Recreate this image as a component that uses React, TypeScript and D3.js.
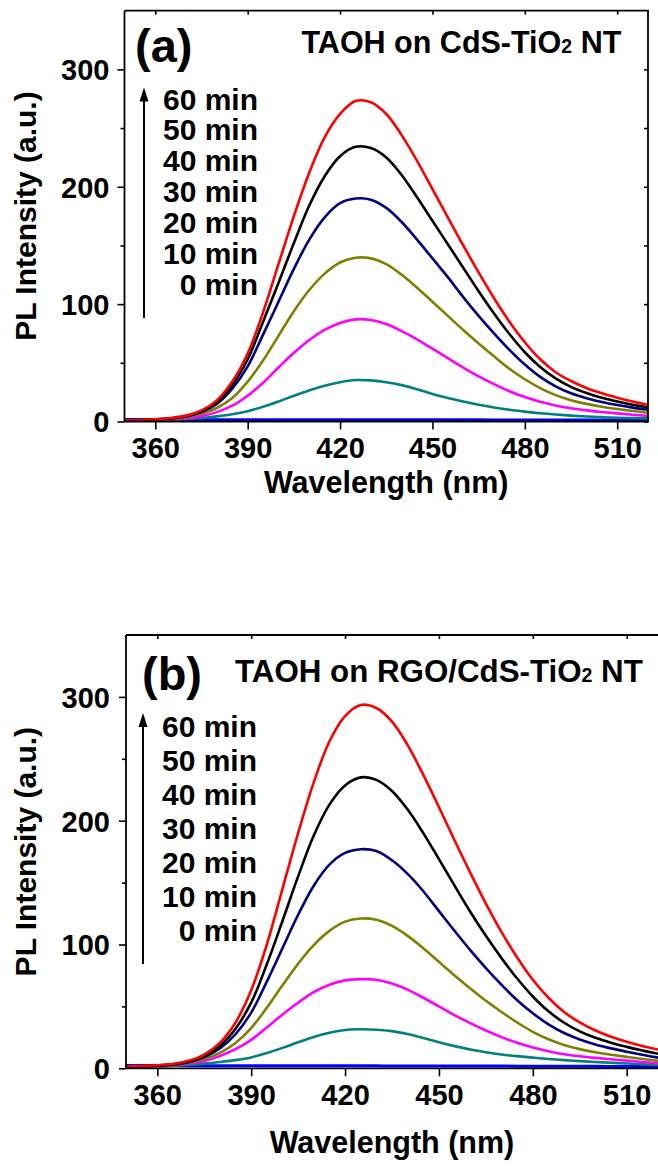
import React, { useEffect, useRef } from "react";
import * as d3 from "d3";

// wavelength grid (nm) shared by every curve
const wavelengths = [
	350, 355, 360, 365, 370, 375, 380, 385, 390, 395, 400, 405, 410, 415, 420, 425, 430, 435,
	440, 445, 450, 455, 460, 465, 470, 475, 480, 485, 490, 495, 500, 505, 510, 515, 520,
];

const seriesLabels = ["0 min", "10 min", "20 min", "30 min", "40 min", "50 min", "60 min"];
const seriesColors = ["#0000ff", "#008080", "#ff00ff", "#808000", "#000080", "#000000", "#ff0000"];

const xTicks = [360, 390, 420, 450, 480, 510];
const yTicks = [0, 100, 200, 300];
const yMinorTicks = [50, 150, 250];
const yRightTicks = [0, 50, 100, 150, 200, 250, 300];

// (a) TAOH on CdS-TiO2 NT
const topBlue = [1.6, 1.6, 1.6, 1.6, 1.6, 1.6, 1.5, 1.5, 1.5, 1.5, 1.5, 1.5, 1.5, 1.5, 1.5, 1.5, 1.5, 1.4, 1.4, 1.4, 1.4, 1.4, 1.4, 1.4, 1.3, 1.3, 1.3, 1.3, 1.3, 1.3, 1.3, 1.3, 1.3, 1.3, 1.3];
const topTeal = [0.6, 0.8, 1, 1.3, 2, 3, 4.4, 6.2, 8.8, 12.5, 17, 22, 26.5, 30.5, 33.5, 35.3, 35, 33.5, 31, 27.5, 23.5, 20, 17, 14.3, 12, 10, 8.4, 7, 5.9, 5, 4.3, 3.7, 3.2, 2.9, 2.7];
const topMagenta = [0.7, 0.9, 1.2, 1.7, 2.7, 4.6, 8, 13.5, 22, 33, 46, 58.5, 69.5, 78, 84, 87, 86.5, 83, 77, 70, 62, 54, 46, 38.5, 31.8, 25.8, 20.8, 16.8, 13.7, 11.3, 9.5, 8.1, 6.9, 5.8, 4.8];
const topOlive = [0.8, 1.1, 1.5, 2.2, 3.6, 6.5, 11.5, 20, 34, 52, 73, 94, 112, 126, 135.5, 139.5, 139, 134, 125, 114, 102, 90, 78, 66.5, 55.5, 45, 36, 28.5, 22.5, 18.2, 15, 12.6, 10.6, 8.9, 7.5];
const topNavy = [0.9, 1.2, 1.7, 2.6, 4.3, 8, 15, 28, 47, 74, 102, 130, 155, 174, 186, 190, 189, 182, 170, 155, 139, 123, 106, 90, 75, 61, 48.5, 38, 30, 24, 19.8, 16.6, 14, 11.8, 10];
const topBlack = [1, 1.3, 1.8, 2.8, 4.6, 8.8, 16.5, 31, 53, 85, 118, 152, 184, 209, 226, 234, 233, 225, 210, 191, 171, 151, 131, 111, 92, 74.5, 59, 46.5, 36.8, 29.5, 24.3, 20.3, 17, 14.2, 12];
const topRed = [1, 1.3, 1.9, 3, 5, 9.5, 18, 34, 58, 93, 134, 175, 212, 242, 262, 273, 272, 262, 244, 222, 198, 174, 150, 127, 105, 85, 67.5, 53, 42, 34.5, 28.5, 24, 20.3, 17, 14.3];

// (b) TAOH on RGO/CdS-TiO2 NT
const botBlue = [2.2, 2.2, 2.2, 2.2, 2.1, 2.1, 2.1, 2.1, 2, 2, 2, 2, 2, 2, 2, 2, 2, 1.9, 1.9, 1.9, 1.9, 1.8, 1.8, 1.8, 1.8, 1.7, 1.7, 1.7, 1.6, 1.6, 1.6, 1.5, 1.5, 1.4, 1.4];
const botTeal = [1, 1.2, 1.5, 2, 2.8, 3.8, 5.1, 6.6, 8.8, 12.3, 16.5, 21, 25.3, 28.7, 31, 31.5, 31.2, 30, 27.7, 24.5, 21, 17.9, 15.2, 13, 11.2, 9.8, 8.6, 7.5, 6.6, 5.8, 5.1, 4.5, 3.9, 3.3, 2.8];
const botMagenta = [1.1, 1.4, 1.8, 2.5, 3.8, 6, 10, 15.5, 23, 33, 43.5, 53, 61.5, 67.5, 71, 72, 71.5, 68.5, 63.5, 57, 50, 43, 36.5, 30.5, 25.2, 20.6, 16.8, 13.8, 11.4, 9.7, 8.4, 7.3, 6.2, 5.1, 4.1];
const botOlive = [1.2, 1.5, 2, 2.8, 4.5, 7.5, 12.5, 20.5, 32.5, 49, 67, 84.5, 99.5, 111, 118.5, 121, 120, 115, 107, 97, 86, 75, 64.5, 54.5, 45.5, 37, 29.5, 23.5, 18.9, 15.5, 13, 11, 9.2, 7.5, 6];
const botNavy = [1.3, 1.7, 2.2, 3, 5, 9, 16, 27.5, 45, 70, 97, 124, 147.5, 164.5, 174, 177, 175.5, 168, 157, 143, 127, 111, 95.5, 81, 67.5, 55, 44.5, 35.5, 28.5, 23.3, 19.3, 16.1, 13.4, 10.9, 8.6];
const botBlack = [1.4, 1.8, 2.3, 3.2, 5.4, 9.8, 18, 32, 53, 84, 119, 155, 188, 213, 228.5, 235, 233, 224, 209, 190, 169, 147.5, 126.5, 107, 89, 72.5, 58, 46, 36.8, 29.8, 24.6, 20.6, 17.3, 14.3, 11.7];
const botRed = [1.5, 2, 2.5, 3.5, 6, 11, 20.5, 37, 63, 100, 145, 190, 231, 264, 284.5, 293.5, 291, 280, 261, 237, 211, 184, 158, 133, 110, 89.5, 71.5, 57, 45.5, 37, 30.5, 25.5, 21.5, 18, 15.2];

const panels = [
	{
		id: "a",
		tag: "(a)",
		title: ["TAOH on CdS-TiO", "2", " NT"],
		series: [topBlue, topTeal, topMagenta, topOlive, topNavy, topBlack, topRed],
	},
	{
		id: "b",
		tag: "(b)",
		title: ["TAOH on RGO/CdS-TiO", "2", " NT"],
		series: [botBlue, botTeal, botMagenta, botOlive, botNavy, botBlack, botRed],
	},
];

const layouts = [
	{
		left: 124.5, right: 648, top: 10.7, bottom: 421.5, rightFrame: true,
		tagX: 135, tagY: 62, titleX: 301.5, titleY: 53.3, titleSize: 30.5,
		legendX: 258, legendY: 109.5, legendStep: 30.9,
		arrowX: 144, arrowTip: 87.5, arrowTail: 318,
		xLabelY: 493, yLabelX: 36, tickDX: -15,
	},
	{
		left: 126, right: 658, top: 635, bottom: 1068.3, rightFrame: false,
		tagX: 142, tagY: 690, titleX: 235, titleY: 681.7, titleSize: 31.3,
		legendX: 257, legendY: 737, legendStep: 34,
		arrowX: 143, arrowTip: 713, arrowTail: 964,
		xLabelY: 1153, yLabelX: 36, tickDX: -16,
	},
];

const FONT = "'Liberation Sans', Arial, Helvetica, sans-serif";

function drawPanel(svg, panel, L) {
	const x = d3.scaleLinear().domain([350, 520]).range([L.left, L.right]);
	const y = d3.scaleLinear().domain([0, 350]).range([L.bottom, L.top]);

	const g = svg.append("g").attr("font-family", FONT).attr("font-weight", "bold");

	const clipId = `clip-${panel.id}`;
	g.append("clipPath")
		.attr("id", clipId)
		.append("rect")
		.attr("x", L.left)
		.attr("y", L.top)
		.attr("width", L.right - L.left)
		.attr("height", L.bottom - L.top);

	const line = d3
		.line<number>()
		.x((_, j) => x(wavelengths[j]))
		.y((d) => y(d))
		.curve(d3.curveCatmullRom.alpha(0.5));

	const curves = g.append("g").attr("clip-path", `url(#${clipId})`);
	panel.series.forEach((vals, k) => {
		curves
			.append("path")
			.attr("d", line(vals))
			.attr("fill", "none")
			.attr("stroke", seriesColors[k])
			.attr("stroke-width", k === 0 ? 3 : 2.6);
	});

	const styleAxis = (sel) => {
		sel.select(".domain").remove();
		sel.selectAll("line").attr("stroke", "#000").attr("stroke-width", 1.6);
		sel.attr("font-family", FONT).attr("font-size", 29);
		sel.selectAll("text").attr("fill", "#000");
	};

	// bottom axis
	const xAxis = g
		.append("g")
		.attr("transform", `translate(0,${L.bottom})`)
		.call(d3.axisBottom(x).tickValues(xTicks).tickSize(8).tickFormat(d3.format("d")));
	styleAxis(xAxis);
	xAxis.selectAll("text").attr("y", 36.5).attr("dy", 0);

	// top axis, inward ticks
	const xTop = g
		.append("g")
		.attr("transform", `translate(0,${L.top})`)
		.call(d3.axisBottom(x).tickValues(xTicks).tickSize(4).tickFormat(() => ""));
	styleAxis(xTop);

	// left axis
	const yAxis = g
		.append("g")
		.attr("transform", `translate(${L.left},0)`)
		.call(d3.axisLeft(y).tickValues(yTicks).tickSize(7).tickFormat(d3.format("d")));
	styleAxis(yAxis);
	yAxis.selectAll("text").attr("x", L.tickDX).attr("dy", "0.36em");

	const yMinor = g
		.append("g")
		.attr("transform", `translate(${L.left},0)`)
		.call(d3.axisLeft(y).tickValues(yMinorTicks).tickSize(4).tickFormat(() => ""));
	styleAxis(yMinor);

	if (L.rightFrame) {
		const yRight = g
			.append("g")
			.attr("transform", `translate(${L.right},0)`)
			.call(d3.axisLeft(y).tickValues(yRightTicks).tickSize(4).tickFormat(() => ""));
		styleAxis(yRight);
	}

	// frame
	const frame = g.append("g").attr("stroke", "#000").attr("stroke-width", 1.8);
	frame.append("line").attr("x1", L.left).attr("x2", L.left).attr("y1", L.top).attr("y2", L.bottom);
	frame.append("line").attr("x1", L.left).attr("x2", L.right + 1).attr("y1", L.bottom).attr("y2", L.bottom);
	frame.append("line").attr("x1", L.left).attr("x2", L.right + 1).attr("y1", L.top).attr("y2", L.top);
	if (L.rightFrame) {
		frame.append("line").attr("x1", L.right).attr("x2", L.right).attr("y1", L.top).attr("y2", L.bottom);
	}

	// axis titles
	g.append("text")
		.attr("transform", `translate(${L.yLabelX},${(L.top + L.bottom) / 2}) rotate(-90)`)
		.attr("text-anchor", "middle")
		.attr("font-size", 30)
		.text("PL Intensity (a.u.)");

	g.append("text")
		.attr("x", (L.left + L.right) / 2)
		.attr("y", L.xLabelY)
		.attr("text-anchor", "middle")
		.attr("font-size", 30.5)
		.text("Wavelength (nm)");

	// panel tag and title
	g.append("text").attr("x", L.tagX).attr("y", L.tagY).attr("font-size", 47).text(panel.tag);

	const title = g.append("text").attr("x", L.titleX).attr("y", L.titleY).attr("font-size", L.titleSize);
	title.append("tspan").text(panel.title[0]);
	title.append("tspan").attr("font-size", 19.5).text(panel.title[1]);
	title.append("tspan").text(panel.title[2]);

	// legend, newest on top
	seriesLabels
		.slice()
		.reverse()
		.forEach((lab, i) => {
			g.append("text")
				.attr("x", L.legendX)
				.attr("y", L.legendY + i * L.legendStep)
				.attr("text-anchor", "end")
				.attr("font-size", 30)
				.text(lab);
		});

	// arrow
	g.append("line")
		.attr("x1", L.arrowX)
		.attr("x2", L.arrowX)
		.attr("y1", L.arrowTail)
		.attr("y2", L.arrowTip + 10)
		.attr("stroke", "#000")
		.attr("stroke-width", 2);
	g.append("path")
		.attr("d", d3.line()([[L.arrowX, L.arrowTip], [L.arrowX - 4.5, L.arrowTip + 14], [L.arrowX + 4.5, L.arrowTip + 14]]) + "Z")
		.attr("fill", "#000");
}

export default function App() {
	const svgRef = useRef<SVGSVGElement>(null);

	useEffect(() => {
		const svg = d3.select(svgRef.current);
		svg.selectAll("*").remove();
		panels.forEach((p, i) => drawPanel(svg, p, layouts[i]));
	}, []);

	return (
		<div style={{ position: "absolute", left: 0, top: 0 }}>
			<svg ref={svgRef} width={658} height={1166} style={{ display: "block", background: "#fff" }}></svg>
		</div>
	);
}
